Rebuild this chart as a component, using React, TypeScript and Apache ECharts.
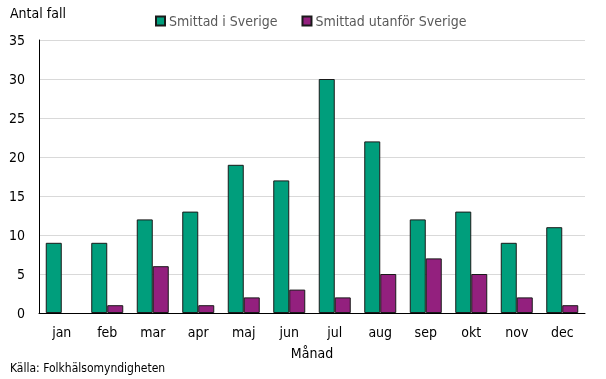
import React, { useEffect, useRef } from "react";
import * as echarts from "echarts";

const months = ["jan", "feb", "mar", "apr", "maj", "jun", "jul", "aug", "sep", "okt", "nov", "dec"];
const inSweden = [9, 9, 12, 13, 19, 17, 30, 22, 12, 13, 9, 11];
const outsideSweden = [0, 1, 6, 1, 2, 3, 2, 5, 7, 5, 2, 1];
const seriesNames = ["Smittad i Sverige", "Smittad utanför Sverige"];
const FONT = "'DejaVu Sans Condensed', 'DejaVu Sans', sans-serif";

const toItems = (arr: number[]) =>
  arr.map((v) => (v === 0 ? { value: v, itemStyle: { borderWidth: 0 } } : v));

export default function App() {
  const ref = useRef<HTMLDivElement>(null);
  useEffect(() => {
    const chart = echarts.init(ref.current!, null, { renderer: "svg" });
    chart.setOption({
      animation: false,
      textStyle: { fontFamily: FONT },
      grid: { left: 39, right: 21, top: 40, bottom: 66 },
      legend: {
        top: 9,
        left: 150,
        itemWidth: 9,
        itemHeight: 9,
        itemGap: 24,
        icon: "rect",
        textStyle: { fontFamily: FONT, fontSize: 14, color: "#595959", padding: [0, 0, 0, -1] },
        data: seriesNames,
      },
      xAxis: {
        type: "category",
        data: months,
        name: "Månad",
        nameLocation: "middle",
        nameGap: 33,
        nameTextStyle: { fontFamily: FONT, fontSize: 14, color: "#000" },
        axisLine: { lineStyle: { color: "#000", width: 1 } },
        axisTick: { show: false },
        axisLabel: { fontFamily: FONT, fontSize: 14, color: "#000", margin: 12 },
      },
      yAxis: {
        type: "value",
        min: 0,
        max: 35,
        interval: 5,
        axisLine: { show: true, lineStyle: { color: "#000", width: 1 } },
        axisTick: { show: false },
        splitLine: { lineStyle: { color: "#d9d9d9" } },
        axisLabel: { fontFamily: FONT, fontSize: 14, color: "#000", margin: 14 },
      },
      graphic: [
        { type: "text", left: 10, top: 6, style: { text: "Antal fall", font: `14px ${FONT}`, fill: "#000" } },
        { type: "text", left: 10, top: 362, style: { text: "Källa: Folkhälsomyndigheten", font: `12px ${FONT}`, fill: "#000" } },
      ],
      series: [
        {
          name: seriesNames[0],
          type: "bar",
          data: toItems(inSweden),
          barWidth: 16,
          barGap: "0%",
          itemStyle: { color: "#009e7c", borderColor: "#1a1a1a", borderWidth: 1 },
        },
        {
          name: seriesNames[1],
          type: "bar",
          data: toItems(outsideSweden),
          barWidth: 16,
          barGap: "0%",
          itemStyle: { color: "#93207e", borderColor: "#1a1a1a", borderWidth: 1 },
        },
      ],
    });
    return () => chart.dispose();
  }, []);
  return <div ref={ref} style={{ position: "fixed", left: 0, top: 0, width: 606, height: 379 }} />;
}
